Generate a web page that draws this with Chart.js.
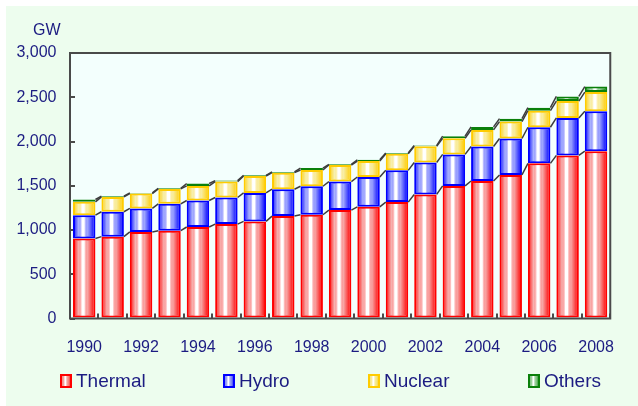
<!DOCTYPE html>
<html>
<head>
<meta charset="utf-8">
<title>Generating capacity by source, 1990-2008</title>
<script src="https://cdn.jsdelivr.net/npm/chart.js"></script>
<style>
  html, body { margin: 0; padding: 0; background: #ffffff; }
  canvas { display: block; }
</style>
</head>
<body>
<canvas id="capChart" width="638" height="406"></canvas>
<script>
// values (GW)
const years = ['1990','1991','1992','1993','1994','1995','1996','1997','1998','1999',
               '2000','2001','2002','2003','2004','2005','2006','2007','2008'];
const thermal = [905, 925, 978, 992, 1034, 1067, 1097, 1157, 1172, 1225, 1262, 1315, 1402, 1498, 1554, 1622, 1753, 1843, 1891];
const hydro   = [263, 281, 266, 304, 299, 300, 322, 304, 322, 322, 337, 359, 360, 356, 390, 412, 408, 423, 450];
const nuclear = [150, 168, 168, 168, 165, 180, 191, 187, 184, 187, 180, 188, 184, 183, 187, 191, 187, 191, 217];
const others  = [27, 8, 7, 8, 27, 11, 8, 8, 22, 8, 15, 8, 8, 23, 34, 33, 34, 52, 63];
const yTicks  = [0, 500, 1000, 1500, 2000, 2500, 3000];

const TEXT = '#1c1c82';
const FONT = '"Liberation Sans", Arial, sans-serif';

// horizontal "cylinder" shading: solid edge, white centre
function shade(ctx2d, x0, x1, rgb) {
  const g = ctx2d.createLinearGradient(x0, 0, x1, 0);
  g.addColorStop(0, `rgb(${rgb})`);
  g.addColorStop(0.1, `rgba(${rgb},0.7)`);
  g.addColorStop(0.25, `rgba(${rgb},0.3)`);
  g.addColorStop(0.4, 'rgba(255,255,255,1)');
  g.addColorStop(0.5, 'rgba(255,255,255,1)');
  g.addColorStop(0.65, `rgba(${rgb},0.35)`);
  g.addColorStop(0.8, `rgba(${rgb},0.65)`);
  g.addColorStop(0.92, `rgba(${rgb},0.9)`);
  g.addColorStop(1, `rgb(${rgb})`);
  return g;
}

function barFill(rgb) {
  return (c) => {
    const chart = c.chart;
    if (!chart.chartArea || c.dataIndex === undefined) return `rgb(${rgb})`;
    const xs = chart.scales.x;
    const cx = xs.getPixelForValue(c.dataIndex);
    const half = (xs.width / years.length) * 0.79 / 2;
    return shade(chart.ctx, cx - half, cx + half, rgb);
  };
}

const series = [
  { label: 'Thermal', data: thermal, rgb: '255,0,0',   edge: '#ff0000' },
  { label: 'Hydro',   data: hydro,   rgb: '0,0,255',   edge: '#0000ff' },
  { label: 'Nuclear', data: nuclear, rgb: '255,204,0', edge: '#ffcc00' },
  { label: 'Others',  data: others,  rgb: '0,128,0',   edge: '#0a800a' }
];

const backdrop = {
  id: 'backdrop',
  beforeDraw(chart) {
    const { ctx, chartArea: a } = chart;
    ctx.save();
    ctx.fillStyle = '#ffffff';
    ctx.fillRect(0, 0, chart.width, chart.height);
    ctx.fillStyle = '#edfdee';
    ctx.fillRect(6, 6, chart.width - 6, chart.height - 6);
    ctx.fillStyle = '#f3fffd';
    ctx.fillRect(a.left, a.top, a.right - a.left, a.bottom - a.top);
    ctx.restore();
  },
  afterDraw(chart) {
    const { ctx, chartArea: a } = chart;
    ctx.save();
    ctx.strokeStyle = '#4a4a4a';
    ctx.lineWidth = 2;
    ctx.strokeRect(a.left, a.top, a.right - a.left, a.bottom - a.top);
    // unit label
    ctx.fillStyle = TEXT;
    ctx.font = '16px ' + FONT;
    ctx.textBaseline = 'middle';
    ctx.textAlign = 'left';
    ctx.fillText('GW', 33, 31);
    // legend
    const slots = [60, 223, 368, 528];
    ctx.font = '19px ' + FONT;
    series.forEach((s, i) => {
      const x = slots[i], y = 374;
      ctx.fillStyle = shade(ctx, x, x + 12, s.rgb);
      ctx.fillRect(x, y, 12, 14);
      ctx.strokeStyle = s.edge;
      ctx.lineWidth = 2;
      ctx.strokeRect(x + 1, y + 1, 10, 12);
      ctx.fillStyle = TEXT;
      ctx.fillText(s.label, x + 16, y + 8);
    });
    ctx.restore();
  }
};

// Excel-style series lines joining the tops of each segment
const seriesLines = {
  id: 'seriesLines',
  afterDatasetsDraw(chart) {
    const ctx = chart.ctx;
    ctx.save();
    ctx.strokeStyle = '#3c3c3c';
    ctx.lineWidth = 1.5;
    chart.data.datasets.forEach((ds, d) => {
      const pts = chart.getDatasetMeta(d).data;
      for (let i = 0; i < pts.length - 1; i++) {
        const a = pts[i], b = pts[i + 1];
        ctx.beginPath();
        ctx.moveTo(a.x + a.width / 2, a.y);
        ctx.lineTo(b.x - b.width / 2, b.y);
        ctx.stroke();
      }
    });
    ctx.restore();
  }
};

new Chart(document.getElementById('capChart'), {
  type: 'bar',
  data: {
    labels: years,
    datasets: series.map(s => ({
      label: s.label,
      data: s.data,
      backgroundColor: barFill(s.rgb),
      borderColor: s.edge,
      borderWidth: 2,
      borderSkipped: false,
      barPercentage: 0.79,
      categoryPercentage: 1
    }))
  },
  options: {
    responsive: false,
    devicePixelRatio: 1,
    animation: false,
    layout: { padding: { left: 0, right: 6, top: 53, bottom: 0 } },
    plugins: { legend: { display: false }, tooltip: { enabled: false } },
    scales: {
      x: {
        stacked: true,
        offset: true,
        grid: { offset: true, drawOnChartArea: false, drawTicks: true, tickLength: -5, color: '#4a4a4a', lineWidth: 2 },
        border: { display: false },
        ticks: {
          autoSkip: false,
          maxRotation: 0,
          padding: 24,
          color: TEXT,
          font: { family: FONT, size: 16 },
          callback: (v, i) => (i % 2 === 0 ? years[i] : '')
        },
        afterFit: s => { s.height = 87.5; }
      },
      y: {
        stacked: true,
        min: yTicks[0],
        max: yTicks[yTicks.length - 1],
        grid: { drawOnChartArea: false, drawTicks: true, tickLength: -5, color: '#4a4a4a', lineWidth: 2 },
        border: { display: false },
        afterBuildTicks: s => { s.ticks = yTicks.map(v => ({ value: v })); },
        ticks: {
          padding: 18.5,
          color: TEXT,
          font: { family: FONT, size: 16 },
          callback: v => v.toLocaleString('en-US')
        },
        afterFit: s => { s.width = 70; }
      }
    }
  },
  plugins: [backdrop, seriesLines]
});
</script>
</body>
</html>
